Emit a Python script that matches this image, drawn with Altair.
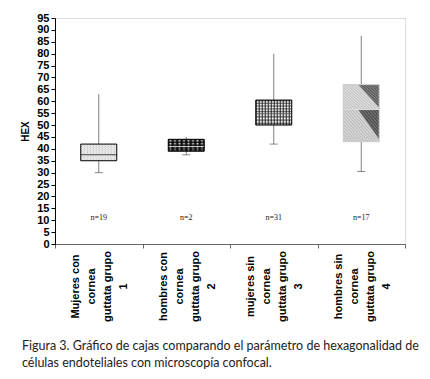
import base64
import altair as alt
import pandas as pd

groups = [
    "Mujeres con|cornea|guttata grupo|1",
    "hombres con|cornea|guttata grupo|2",
    "mujeres sin|cornea|guttata grupo|3",
    "hombres sin|cornea|guttata grupo|4",
]
whisker_low = [30, 37.5, 42, 30.5]
q1 = [35, 39, 50, 43]
median = [37.5, 41, 55, 56.5]
q3 = [42, 44, 60.5, 67]
whisker_high = [63, 45, 80, 87.5]
n_labels = ["n=19", "n=2", "n=31", "n=17"]
n_pos = [11, 11, 11, 11]
y_ticks = list(range(0, 96, 5))
box_fill = ["#e4e4e4", "#4a4a4a", "#9c9c9c", "#c6c6c6"]
box_stroke = ["#000000", "#000000", "#000000", "#cccccc"]
median_color = ["#000000", "#ffffff", "transparent", "#e6e6e6"]

caption = [
    "Figura 3. Gráfico de cajas comparando el parámetro de hexagonalidad de",
    "células endoteliales con microscopía confocal.",
]


def svg_uri(body, w, h):
    svg = (f'<svg xmlns="http://www.w3.org/2000/svg" width="{w}" height="{h}" '
           f'viewBox="0 0 {w} {h}" preserveAspectRatio="none">{body}</svg>')
    return "data:image/svg+xml;base64," + base64.b64encode(svg.encode()).decode()


def pat(pid, w, h, inner):
    return (f'<pattern id="{pid}" width="{w}" height="{h}" patternUnits="userSpaceOnUse">'
            f'{inner}</pattern>')


# texture styles of the four boxes
tex_stipple = svg_uri(
    '<defs>' + pat("p", 3, 3, '<rect width="3" height="3" fill="#f4f4f4"/>'
                   '<rect x="0" y="0" width="1" height="1" fill="#8a8a8a"/>'
                   '<rect x="1.5" y="1.5" width="1" height="1" fill="#b0b0b0"/>') +
    '</defs><rect width="36" height="17" fill="url(#p)"/>', 36, 17)
tex_dots = svg_uri(
    '<defs>' + pat("p", 4.5, 5, '<rect width="4.5" height="5" fill="#111"/>'
                   '<circle cx="2.25" cy="2.5" r="1.1" fill="#fff"/>') +
    '</defs><rect width="36" height="12" fill="url(#p)"/>', 36, 12)
tex_grid = svg_uri(
    '<defs>' + pat("p", 3, 3, '<rect width="3" height="3" fill="#fff"/>'
                   '<rect x="0" y="0" width="3" height="0.9" fill="#111"/>'
                   '<rect x="0" y="0" width="0.9" height="3" fill="#111"/>') +
    '</defs><rect width="36" height="25" fill="url(#p)"/>', 36, 25)
hatch_light = pat("a", 3, 3, '<rect width="3" height="3" fill="#e2e2e2"/>'
                  '<path d="M-1,-1 L4,4" stroke="#a8a8a8" stroke-width="0.9"/>'
                  '<path d="M-1,2 L1,4 M2,-1 L4,1" stroke="#a8a8a8" stroke-width="0.9"/>')
hatch_dark = pat("b", 3, 3, '<rect width="3" height="3" fill="#8a8a8a"/>'
                 '<path d="M-1,-1 L4,4" stroke="#333" stroke-width="1"/>'
                 '<path d="M-1,2 L1,4 M2,-1 L4,1" stroke="#333" stroke-width="1"/>')
tex_diag = svg_uri(
    '<defs>' + hatch_light + hatch_dark + '</defs>'
    '<rect width="36" height="28" fill="url(#a)"/>'
    '<polygon points="15,0 36,0 36,26" fill="url(#b)"/>', 36, 28)
box_texture = [tex_stipple, tex_dots, tex_grid, tex_diag]

df = pd.DataFrame({
    "grupo": groups, "low": whisker_low, "q1": q1, "med": median, "q3": q3,
    "high": whisker_high, "n": n_labels, "npos": n_pos,
    "fill": box_fill, "stroke": box_stroke, "mcol": median_color,
    "tex": box_texture,
})

x = alt.X("grupo:N", sort=groups, title=None,
          scale=alt.Scale(paddingInner=0, paddingOuter=0),
          axis=alt.Axis(labelExpr="split(datum.label, '|')", labelAngle=270,
                        labelAlign="center", labelBaseline="middle",
                        labelPadding=38, labelLineHeight=16, labelOffset=-23,
                        labelFont="Liberation Sans", labelFontSize=11,
                        labelFontWeight="bold", labelColor="#000",
                        tickBand="extent", tickSize=4, tickColor="#666",
                        domainColor="#666", labelLimit=200))

y_scale = alt.Scale(domain=[0, 95], nice=False, zero=True)
y_axis = alt.Axis(values=y_ticks, tickCount=20, title="HEX", grid=False,
                  labelOverlap=False, labelFlush=False,
                  labelFont="Liberation Sans", labelFontSize=11,
                  labelFontWeight="bold", labelColor="#000",
                  tickSize=4, tickColor="#000", domainColor="#000",
                  labelPadding=2, titleFont="Liberation Sans",
                  titleFontSize=10, titleFontWeight="bold", titleColor="#000",
                  titlePadding=6)


def Y(field):
    return alt.Y(field, type="quantitative", scale=y_scale, axis=y_axis, title="HEX")


base = alt.Chart(df)

whisk = base.mark_rule(color="#808080", strokeWidth=1).encode(
    x=x, y=Y("low"), y2="high:Q")
cap = base.mark_tick(color="#555", size=8, thickness=1).encode(
    x=x, y=Y("low"))
box_bg = base.mark_bar(size=36, strokeWidth=0).encode(
    x=x, y=Y("q1"), y2="q3:Q",
    fill=alt.Fill("fill:N", scale=None))
tex_lower = base.mark_image(width=36, aspect=False).encode(
    x=x, y=Y("q1"), y2="med:Q", url="tex:N")
tex_upper = base.mark_image(width=36, aspect=False).encode(
    x=x, y=Y("med"), y2="q3:Q", url="tex:N")
med = base.mark_tick(size=36, thickness=1).encode(
    x=x, y=Y("med"), color=alt.Color("mcol:N", scale=None))
box_line = base.mark_bar(size=36, strokeWidth=1, fillOpacity=0).encode(
    x=x, y=Y("q1"), y2="q3:Q",
    stroke=alt.Stroke("stroke:N", scale=None))
ntext = base.mark_text(font="Liberation Serif", fontSize=8, color="#222").encode(
    x=x, y=Y("npos"), text="n:N")

chart = alt.layer(whisk, cap, box_bg, tex_lower, tex_upper, med, box_line, ntext).properties(
    width=350, height=226,
    autosize=alt.AutoSizeParams(type="none"),
    padding={"left": 47, "top": 10, "right": 15, "bottom": 128},
    title=alt.TitleParams(text=caption, orient="bottom", anchor="start",
                          frame="group", dx=-33, offset=19, font="Lato",
                          fontSize=12.5, fontWeight="normal", color="#222",
                          lineHeight=17),
).configure_view(stroke=None).configure(background="white")

chart.save("out.html", embed_options={"renderer": "svg", "actions": False})
